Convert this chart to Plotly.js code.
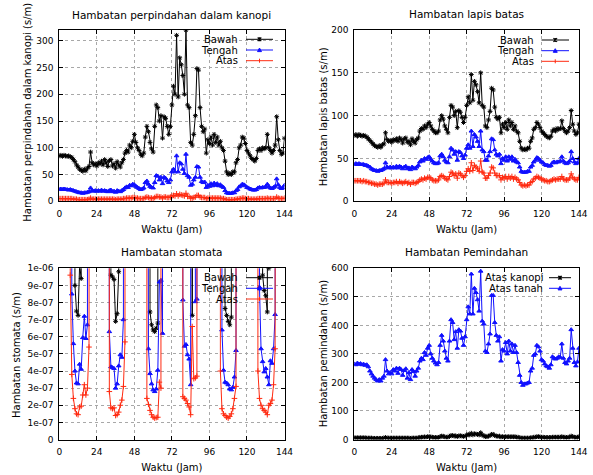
<!DOCTYPE html>
<html><head><meta charset="utf-8">
<script src="https://cdn.plot.ly/plotly-3.0.1.min.js"></script>
<style>html,body{margin:0;padding:0;background:#fff}#chart{width:593px;height:475px}</style>
</head><body><div id="chart"></div>
<script>
// ---------- DATA ----------
const hours = [0,1,2,3,4,5,6,7,8,9,10,11,12,13,14,15,16,17,18,19,20,21,22,23,24,25,26,27,28,29,30,31,32,33,34,35,36,37,38,39,40,41,42,43,44,45,46,47,48,49,50,51,52,53,54,55,56,57,58,59,60,61,62,63,64,65,66,67,68,69,70,71,72,73,74,75,76,77,78,79,80,81,82,83,84,85,86,87,88,89,90,91,92,93,94,95,96,97,98,99,100,101,102,103,104,105,106,107,108,109,110,111,112,113,114,115,116,117,118,119,120,121,122,123,124,125,126,127,128,129,130,131,132,133,134,135,136,137,138,139,140,141,142,143,144];
const xTicks = [0,24,48,72,96,120,144];

// Hambatan perpindahan dalam kanopi (s/m)
const kanopiBawah = [85,86,84,86,85,84,85,83,82,78, 74,68,64,60,58,56,60,57,62,65, 92,72,68,70,66,72,70,75,68,78, 72,65,76,78,66,70,62,74,68,64, 72,78,90,95,92,105,100,112,125,110, 100,95,88,85,90,120,140,130,110,98, 92,140,180,175,150,160,118,158,155,140, 125,140,180,215,200,310,195,268,255,235, 200,320,180,175,110,105,125,160,248,245, 175,140,130,135,90,115,108,120,105,125, 110,120,105,112,100,95,75,55,50,52, 50,55,55,72,78,100,105,120,118,108, 95,90,85,80,78,75,80,95,98,95, 100,98,100,125,100,95,90,95,105,158, 115,95,88,90,118];
const kanopiTengah = [22,23,22,23,22,22,21,22,21,20, 19,18,17,16,16,15,16,16,17,18, 25,20,19,20,19,20,19,21,19,20, 19,18,20,21,18,19,17,20,19,18, 20,22,25,27,26,30,29,32,31,28, 26,24,22,23,25,35,38,32,28,26, 25,35,48,47,40,45,33,45,43,38, 35,40,55,60,55,85,55,72,70,60, 52,88,48,45,30,32,40,45,65,64, 45,37,35,36,26,30,28,33,29,34, 30,33,29,31,28,26,20,16,15,15, 15,16,16,20,22,27,29,32,31,29, 26,25,23,22,21,21,22,25,26,25, 26,26,27,32,27,25,24,26,28,42, 31,26,24,25,30];
const kanopiAtas = [5,5,5,5,5,5,5,5,5,4, 4,4,3,3,3,3,3,3,3,4, 6,4,4,4,4,4,4,4,4,4, 4,4,4,4,4,4,3,4,4,4, 4,5,5,6,6,6,6,7,7,6, 6,5,5,5,5,7,8,7,6,6, 5,7,9,9,8,8,6,8,8,7, 7,8,10,11,10,14,10,13,12,11, 10,15,9,9,6,6,7,8,11,11, 8,7,7,7,5,6,6,6,6,6, 6,6,6,6,5,5,4,3,3,3, 3,3,3,4,4,5,5,6,6,5, 5,5,4,4,4,4,4,5,5,5, 5,5,5,6,5,5,5,5,5,8, 6,5,5,5,6];

// Hambatan lapis batas (s/m)
const lapisBawah = [77,78,76,78,77,76,77,76,75,73, 71,69,67,65,64,63,65,63,66,67, 80,72,70,71,69,72,71,73,70,74, 72,68,73,74,69,70,66,73,70,68, 72,74,82,85,84,88,86,90,92,88, 84,82,80,80,82,95,100,96,88,84, 80,98,112,110,100,105,86,106,104,98, 92,98,112,122,115,148,118,140,136,128, 115,150,112,110,88,86,95,105,132,130, 110,98,96,98,80,90,86,92,84,95, 88,92,84,88,82,80,70,62,60,61, 60,62,62,70,74,84,86,92,90,86, 82,80,78,76,75,74,76,82,84,82, 85,84,85,94,85,82,80,82,86,106, 90,82,78,80,90];
const lapisTengah = [43,44,43,44,43,43,43,42,42,41, 40,38,37,36,36,35,36,36,37,38, 45,40,39,40,39,40,39,41,39,41, 40,38,40,41,38,39,37,40,39,38, 40,42,46,48,47,50,49,51,52,49, 47,45,44,44,45,53,55,52,48,46, 45,52,62,60,55,58,48,58,57,53, 50,54,62,66,62,82,64,78,75,70, 64,82,60,58,48,48,53,58,73,72, 60,55,53,55,44,50,48,52,47,52, 49,52,47,49,46,45,40,35,34,34, 34,35,35,40,42,46,48,51,50,48, 46,45,43,42,42,41,42,45,46,45, 46,46,47,52,47,45,44,45,47,58, 50,46,44,45,50];
const lapisAtas = [24,24,24,24,24,23,24,23,23,22, 22,21,21,20,20,19,20,20,20,21, 25,22,22,22,21,22,22,23,21,23, 22,21,22,23,21,22,20,22,22,21, 22,23,25,26,25,27,26,28,28,27, 25,24,24,24,25,29,30,29,27,26, 25,29,34,33,30,32,27,33,32,30, 28,30,35,38,35,45,36,42,40,38, 35,47,34,33,27,27,30,33,40,39, 33,30,30,30,25,28,27,29,26,29, 27,29,26,28,26,25,22,19,18,19, 18,19,19,22,23,26,27,29,28,27, 26,25,24,24,23,23,24,25,26,25, 26,26,26,29,26,25,25,25,27,32, 28,26,25,25,28];

// Hambatan stomata, in units of 1e-7 s/m; N = night value far above the axis (1e-4 s/m)
const N = 1000;
const stomataBawah = [N,N,N,N,N,N,N,N,N,N,9.0,7.5, 7.25,10.2,9.4,N,N,N,N,N,N,N,N,N, N,N,N,N,N,N,N,N,N,9.6,9.5,9.35, 6.9,7.35,9.8,N,N,N,N,N,N,N,N,N, N,N,N,N,N,N,N,N,N,N,7.45,6.7, 6.4,6.3,6.5,6.8,N,N,N,N,N,N,N,N, N,N,N,N,N,N,N,N,N,N,N,N, N,7.25,N,N,N,N,N,N,N,N,N,N, N,N,N,N,N,N,N,N,N,N,7.65,7.25, 6.9,6.7,7.15,N,N,N,N,N,N,N,N,N, N,N,N,N,N,N,N,N,N,N,9.6,8.7, 8.4,7.45,10.0,N,N,N,N,N,N,N,N,N, N];
const stomataTengah = [N,N,N,N,N,N,N,N,8.5,5.6,4.0,3.3, 3.25,4.4,4.1,5.95,7.2,5.9,6.7,N,N,N,N,N, N,N,N,N,N,N,N,N,6.3,4.25,4.2,4.15, 3.0,3.25,4.3,4.95,4.8,7.0,N,N,N,N,N,N, N,N,N,N,N,N,N,N,N,5.3,3.85,3.25, 2.9,2.8,2.95,4.05,9.2,9.3,6.2,N,N,N,N,N, N,N,N,N,N,N,N,8.15,5.45,5.55,4.95,4.7, 3.2,N,N,8.05,8.2,N,N,N,N,N,N,N, N,N,N,N,N,N,N,N,6.4,4.05,3.35,3.3, 3.2,2.95,2.9,3.05,3.65,5.2,N,N,N,N,N,N, N,N,N,N,N,N,N,N,8.9,5.3,4.55,3.95, 4.15,3.65,3.2,4.6,4.45,5.3,7.3,N,N,N,N,N, N];
const stomataAtas = [N,N,N,N,N,N,N,9.6,3.8,2.4,1.8,1.5, 1.45,1.9,1.95,2.6,3.2,2.6,3.0,5.4,N,N,N,N, N,N,N,N,N,N,N,N,2.8,1.85,1.8,1.85, 1.4,1.45,1.6,2.0,2.3,3.1,5.7,N,N,N,N,N, N,N,N,N,N,N,N,N,2.4,2.05,1.7,1.45, 1.3,1.25,1.28,1.3,3.35,3.0,N,N,N,N,N,N, N,N,N,N,N,N,N,2.5,2.4,2.3,2.1,1.9, 1.45,6.6,3.55,3.6,3.7,N,N,N,N,N,N,N, N,N,N,N,N,N,N,4.0,1.8,1.5,1.4,1.3, 1.25,1.35,1.5,1.8,2.4,3.1,N,N,N,N,N,N, N,N,N,N,N,N,N,4.0,2.4,2.0,1.8,1.7, 1.6,1.45,2.0,2.1,2.3,3.2,5.3,N,N,N,N,N, N];
const stomataTickVals = [0,1e-7,2e-7,3e-7,4e-7,5e-7,6e-7,7e-7,8e-7,9e-7,1e-6];
const stomataTickText = ['0','1e-07','2e-07','3e-07','4e-07','5e-07','6e-07','7e-07','8e-07','9e-07','1e-06'];

// Hambatan Pemindahan (s/m)
const pemindahanKanopi = [6,6,6,6,6,6,6,6,5,5, 5,5,4,4,4,4,4,4,4,5, 7,5,5,5,5,5,5,5,5,5, 5,5,5,5,5,5,4,5,5,5, 5,6,7,8,8,9,8,10,10,9, 8,7,7,7,7,10,12,11,9,8, 8,11,14,14,12,13,10,13,13,12, 11,12,15,18,16,22,16,20,19,18, 16,24,15,14,10,10,12,14,18,18, 14,12,11,12,8,10,9,10,9,10, 9,10,9,10,8,8,6,5,5,5, 5,5,5,6,6,8,8,10,10,9, 8,8,7,7,7,7,7,8,8,8, 8,8,8,10,8,8,7,8,8,12, 10,8,7,8,10];
const pemindahanTanah = [265,262,268,264,266,262,264,260,262,255, 240,230,222,215,210,205,210,205,215,222, 280,240,230,235,230,245,240,250,232,250, 245,225,242,248,215,235,210,245,238,222, 240,250,275,285,280,305,295,320,330,300, 285,275,268,262,270,330,365,345,310,285, 275,345,420,410,350,378,320,385,380,355, 330,360,420,465,440,580,440,530,515,490, 450,590,415,405,310,305,335,370,505,505, 410,365,345,360,275,315,310,340,300,345, 310,335,305,330,305,270,225,200,190,195, 195,198,200,240,250,295,300,330,325,310, 280,275,265,258,255,250,262,290,285,282, 285,290,288,335,285,270,265,275,285,385, 320,270,258,272,320];

const titles = ['Hambatan perpindahan dalam kanopi','Hambatan lapis batas','Hambatan stomata','Hambatan Pemindahan'];
const yTitles = ['Hambatan perpindahan dalam kanopi (s/m)','Hambatan lapis batas (s/m)','Hambatan stomata (s/m)','Hambatan pemindahan (s/m)'];
const xTitle = 'Waktu (Jam)';
const layerNames = ['Bawah','Tengah','Atas'];
const pemindahanNames = ['Atas kanopi','Atas tanah'];

// ---------- STYLE ----------
const W = 593, H = 475;
const px = x => x / W, py = y => 1 - y / H;
const FONT = 'DejaVu Sans, Liberation Sans, sans-serif';
const BLACK = '#000000', BLUE = '#1010ff', RED = '#ff2a10';
const sty = {
  Bawah: {color: BLACK, symbol: 'asterisk-open', size: 4},
  Tengah: {color: BLUE, symbol: 'triangle-up', size: 4},
  Atas: {color: RED, symbol: 'cross-thin-open', size: 4}
};

function tr(y, name, s, xa, ya) {
  return {
    x: hours, y: y, name: name, type: 'scatter', mode: 'lines+markers',
    xaxis: xa, yaxis: ya, showlegend: false,
    line: {color: s.color, width: 1},
    marker: {symbol: s.symbol, size: s.size, color: s.color, line: {color: s.color, width: 1}}
  };
}
const toSI = a => a.map(v => v * 1e-7);

const data = [
  tr(kanopiBawah, layerNames[0], sty.Bawah, 'x', 'y'),
  tr(kanopiTengah, layerNames[1], sty.Tengah, 'x', 'y'),
  tr(kanopiAtas, layerNames[2], sty.Atas, 'x', 'y'),
  tr(lapisBawah, layerNames[0], sty.Bawah, 'x2', 'y2'),
  tr(lapisTengah, layerNames[1], sty.Tengah, 'x2', 'y2'),
  tr(lapisAtas, layerNames[2], sty.Atas, 'x2', 'y2'),
  tr(toSI(stomataBawah), layerNames[0], sty.Bawah, 'x3', 'y3'),
  tr(toSI(stomataTengah), layerNames[1], sty.Tengah, 'x3', 'y3'),
  tr(toSI(stomataAtas), layerNames[2], sty.Atas, 'x3', 'y3'),
  tr(pemindahanKanopi, pemindahanNames[0], sty.Bawah, 'x4', 'y4'),
  tr(pemindahanTanah, pemindahanNames[1], sty.Tengah, 'x4', 'y4')
];

const axBase = {
  showline: true, linecolor: '#000', linewidth: 1, mirror: 'ticks',
  ticks: 'inside', ticklen: 4, tickcolor: '#000', tickwidth: 1,
  showgrid: true, gridcolor: '#a8a8a8', griddash: 'dot', gridwidth: 1,
  zeroline: false, tickfont: {family: FONT, size: 9, color: '#000'}, automargin: false
};
const xAx = (dom, anchor) => Object.assign({}, axBase, {
  domain: dom, anchor: anchor, range: [0, 144], tickvals: xTicks, ticklabelstandoff: 4,
  title: {text: xTitle, font: {family: FONT, size: 10, color: '#000'}, standoff: 7}
});
const yAx = (dom, anchor, range, extra) => Object.assign({}, axBase, {
  domain: dom, anchor: anchor, range: range, ticklabelstandoff: 3
}, extra || {});

const colL = [px(59.3), px(284.5)], colR = [px(354.3), px(579)];
const rowT = [py(201.3), py(30)], rowB = [py(439.5), py(268.3)];

const annotations = [];
const shapes = [];
const titlePos = [[171.9, 14.5], [466.7, 14], [171.9, 251.7], [466.7, 251.7]];
titles.forEach((t, i) => annotations.push({
  text: t, xref: 'paper', yref: 'paper', x: px(titlePos[i][0]), y: py(titlePos[i][1]),
  xanchor: 'center', yanchor: 'middle', showarrow: false,
  font: {family: FONT, size: 10.5, color: '#000'}
}));
// y-axis titles (rotated), placed like the gnuplot original
const yTitlePos = [[26.7, 112], [323.3, 117], [16, 355], [323.3, 354]];
yTitles.forEach((t, i) => annotations.push({
  text: t, xref: 'paper', yref: 'paper', x: px(yTitlePos[i][0]), y: py(yTitlePos[i][1]),
  xanchor: 'center', yanchor: 'middle', textangle: -90, showarrow: false,
  font: {family: FONT, size: 10, color: '#000'}
}));

// gnuplot-style keys: right-aligned label followed by a line sample with a marker
function key(textRight, rows, x1, x2, names, styles) {
  names.forEach((nm, i) => {
    const y = rows[i], s = styles[i];
    annotations.push({
      text: nm, xref: 'paper', yref: 'paper', x: px(textRight), y: py(y),
      xanchor: 'right', yanchor: 'middle', showarrow: false,
      font: {family: FONT, size: 10, color: '#000'}
    });
    shapes.push({type: 'line', xref: 'paper', yref: 'paper', x0: px(x1), x1: px(x2), y0: py(y), y1: py(y),
      line: {color: s.color, width: 1}});
    const cx = (x1 + x2) / 2;
    if (s.symbol === 'triangle-up') {
      shapes.push({type: 'path', xref: 'paper', yref: 'paper',
        path: `M ${px(cx - 2)} ${py(y + 1.6)} L ${px(cx + 2)} ${py(y + 1.6)} L ${px(cx)} ${py(y - 2)} Z`,
        fillcolor: s.color, line: {color: s.color, width: 1}});
    } else if (s.symbol === 'cross-thin-open') {
      shapes.push({type: 'line', xref: 'paper', yref: 'paper', x0: px(cx), x1: px(cx), y0: py(y - 2), y1: py(y + 2), line: {color: s.color, width: 1}});
    } else {
      shapes.push({type: 'path', xref: 'paper', yref: 'paper',
        path: `M ${px(cx - 1.8)} ${py(y - 1.8)} L ${px(cx + 1.8)} ${py(y + 1.8)} M ${px(cx - 1.8)} ${py(y + 1.8)} L ${px(cx + 1.8)} ${py(y - 1.8)} M ${px(cx)} ${py(y - 2)} L ${px(cx)} ${py(y + 2)}`,
        line: {color: s.color, width: 1.2}});
    }
  });
}
const three = [sty.Bawah, sty.Tengah, sty.Atas];
key(240, [39.3, 50, 60.7], 246, 273, layerNames, three);
key(535.7, [40, 50.7, 61.3], 541.5, 569, layerNames, three);
key(240, [277.7, 288.3, 299], 246, 273, layerNames, three);
key(545, [277.7, 288.3], 549, 571, pemindahanNames, [sty.Bawah, sty.Tengah]);

const layout = {
  width: W, height: H, margin: {l: 0, r: 0, t: 0, b: 0},
  paper_bgcolor: '#fff', plot_bgcolor: '#fff', showlegend: false,
  font: {family: FONT, size: 10, color: '#000'},
  xaxis: xAx(colL, 'y'), yaxis: yAx(rowT, 'x', [0, 320], {dtick: 50, tick0: 0}),
  xaxis2: xAx(colR, 'y2'), yaxis2: yAx(rowT, 'x2', [0, 200], {dtick: 50, tick0: 0}),
  xaxis3: xAx(colL, 'y3'), yaxis3: yAx(rowB, 'x3', [0, 1e-6], {tickvals: stomataTickVals, ticktext: stomataTickText}),
  xaxis4: xAx(colR, 'y4'), yaxis4: yAx(rowB, 'x4', [0, 600], {dtick: 100, tick0: 0}),
  annotations: annotations, shapes: shapes
};
Plotly.newPlot('chart', data, layout, {staticPlot: true, displayModeBar: false});
</script></body></html>
